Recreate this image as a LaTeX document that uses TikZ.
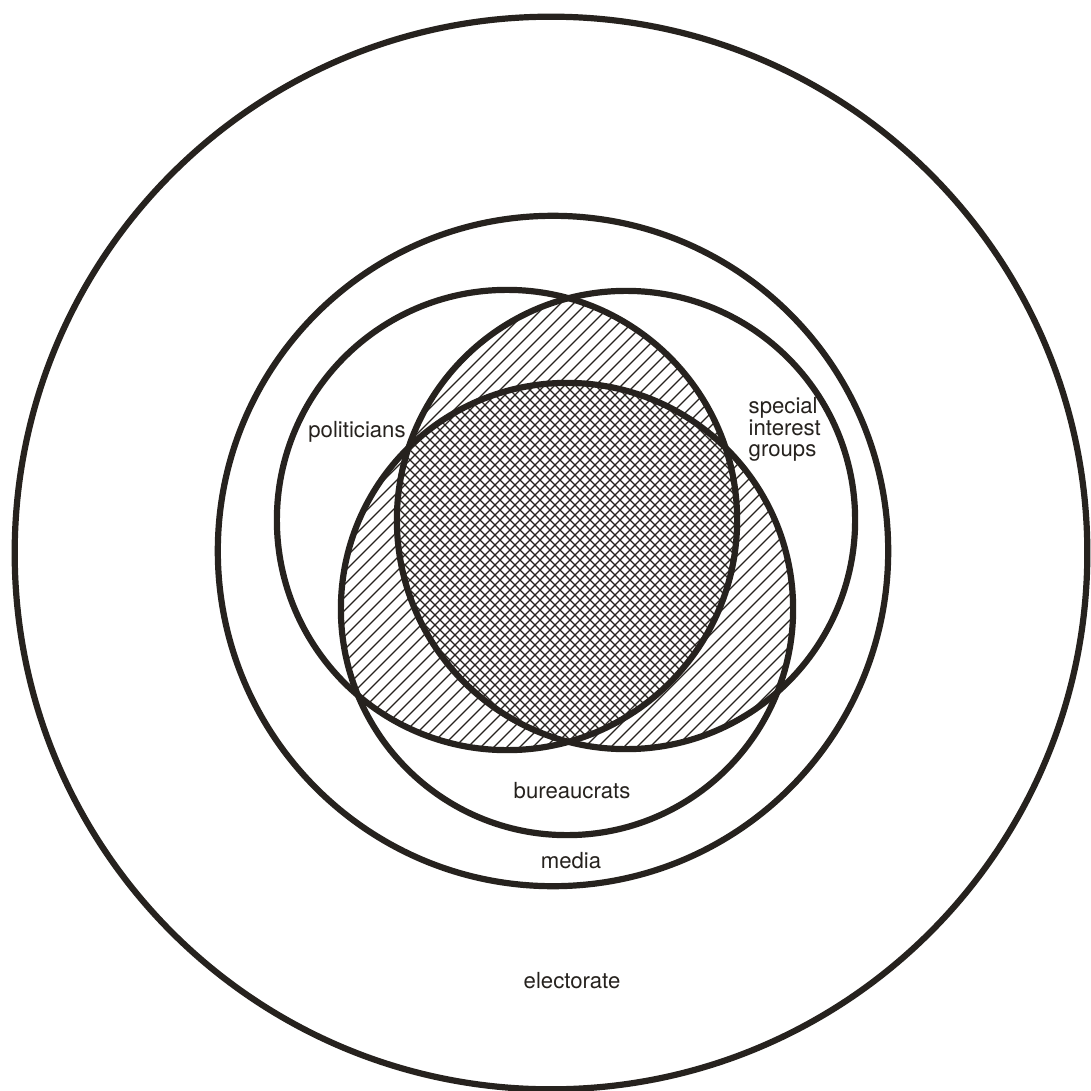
\documentclass[tikz,border=0pt]{standalone}
\usepackage{fontspec}
\setmainfont{TeX Gyre Heros}
\definecolor{ink}{RGB}{38,34,30}
\begin{document}
\begin{tikzpicture}[x=0.01cm,y=-0.01cm,
  ring/.style={draw=ink,line width=0.062cm},
  hatchline/.style={draw=ink,line width=0.38pt},
  lbl/.style={text=ink,font=\fontsize{6.3}{7.5}\selectfont,inner sep=0pt,anchor=base}]
\useasboundingbox (0,0) rectangle (1090,1091);
\fill[white] (0,0) rectangle (1090,1091);
% centres
\coordinate (cE) at (551,553);
\coordinate (cM) at (553,551);
\coordinate (cL) at (507,520);
\coordinate (cR) at (626,520);
\coordinate (cB) at (567,609);
% single hatching on the pairwise overlaps
\begin{scope}
  \clip (cL) circle[radius=2.30cm];
  \clip (cR) circle[radius=2.29cm];
  \foreach \i in {-600,-587,...,1300} \draw[hatchline] (\i,1100) -- ++(1100,-1100);
\end{scope}
\begin{scope}
  \clip (cL) circle[radius=2.30cm];
  \clip (cB) circle[radius=2.26cm];
  \foreach \i in {-600,-587,...,1300} \draw[hatchline] (\i,1100) -- ++(1100,-1100);
\end{scope}
\begin{scope}
  \clip (cR) circle[radius=2.29cm];
  \clip (cB) circle[radius=2.26cm];
  \foreach \i in {-600,-587,...,1300} \draw[hatchline] (\i,1100) -- ++(1100,-1100);
\end{scope}
% cross hatching on the triple overlap
\begin{scope}
  \clip (cL) circle[radius=2.30cm];
  \clip (cR) circle[radius=2.29cm];
  \clip (cB) circle[radius=2.26cm];
  \fill[white] (0,0) rectangle (1090,1091);
  \foreach \i in {-600,-590,...,1300} {
    \draw[hatchline] (\i,1100) -- ++(1100,-1100);
    \draw[hatchline] (\i,0) -- ++(1100,1100);
  }
\end{scope}
% circles
\draw[ring] (cE) circle[radius=5.36cm];
\draw[ring] (cM) circle[radius=3.35cm];
\draw[ring] (cL) circle[radius=2.30cm];
\draw[ring] (cR) circle[radius=2.29cm];
\draw[ring] (cB) circle[radius=2.26cm];
% labels
\node[lbl] (pol) at (357,437) {politicians};
\node[lbl,anchor=base west] (sig1) at (748,413) {special};
\node[lbl,anchor=base west] (sig2) at (748,435) {interest};
\node[lbl,anchor=base west] (sig3) at (748,456) {groups};
\node[lbl] (bur) at (572,798) {bureaucrats};
\node[lbl] (med) at (571,868) {media};
\node[lbl] (ele) at (572,988) {electorate};
\end{tikzpicture}
\end{document}
